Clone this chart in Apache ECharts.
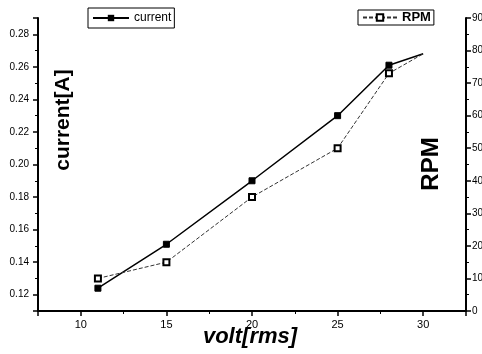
<!DOCTYPE html>
<html><head><meta charset="utf-8">
<script src="https://cdn.jsdelivr.net/npm/echarts@6/dist/echarts.min.js"></script>
<style>html,body{margin:0;padding:0;background:#fff}#c{width:482px;height:354px}</style>
</head><body><div id="c"></div>
<script>
const volts = [11, 15, 20, 25, 28, 30];
const currentA = [0.124, 0.151, 0.190, 0.230, 0.261, 0.268];
const rpm = [10, 15, 35, 50, 73, 79];
const nameCurrent = 'current';
const nameRpm = 'RPM';
const titleX = 'volt[rms]';
const titleLeft = 'current[A]';
const titleRight = 'RPM';

const FONT = '"Liberation Sans", Arial, sans-serif';
const last = volts.length - 1;
function pts(vals) {
  return volts.map((v, i) => i === last ? { value: [v, vals[i]], symbol: 'none' } : [v, vals[i]]);
}
const axisCommon = {
  axisLine: { show: true, onZero: false, lineStyle: { color: '#000', width: 2 } },
  axisTick: { show: true, inside: false, length: 5, lineStyle: { color: '#000', width: 1.5 } },
  minorTick: { show: true, splitNumber: 2, length: 3, lineStyle: { color: '#000', width: 1 } },
  splitLine: { show: false },
  minorSplitLine: { show: false },
  axisLabel: { color: '#000', fontSize: 10, fontFamily: FONT, showMinLabel: false, showMaxLabel: false }
};
const chart = echarts.init(document.getElementById('c'), null, { renderer: 'canvas' });
chart.setOption({
  animation: false,
  backgroundColor: '#fff',
  grid: { left: 38, right: 16, top: 18, bottom: 43, containLabel: false, outerBoundsMode: 'none' },
  legend: [
    {
      data: [nameCurrent], left: 88, top: 8, orient: 'horizontal',
      borderColor: '#000', borderWidth: 1, padding: [4, 3, 4, 4],
      itemWidth: 36, itemHeight: 8, itemGap: 4,
      textStyle: { color: '#000', fontSize: 12, fontFamily: FONT }
    },
    {
      data: [nameRpm], left: 358, top: 10, orient: 'horizontal',
      borderColor: '#000', borderWidth: 1, padding: [1, 3, 1, 4],
      itemWidth: 34, itemHeight: 8, itemGap: 4,
      textStyle: { color: '#000', fontSize: 13, fontWeight: 'bold', fontFamily: FONT }
    }
  ],
  xAxis: Object.assign({}, axisCommon, {
    type: 'value', min: 7.5, max: 32.5, splitNumber: 5,
    axisLabel: Object.assign({}, axisCommon.axisLabel, { margin: 8, fontSize: 11 })
  }),
  yAxis: [
    Object.assign({}, axisCommon, {
      type: 'value', min: 0.11, max: 0.29, splitNumber: 9, position: 'left',
      axisLabel: Object.assign({}, axisCommon.axisLabel, { margin: 9, formatter: v => v.toFixed(2) })
    }),
    Object.assign({}, axisCommon, {
      type: 'value', min: 0, max: 90, interval: 10, position: 'right',
      axisLabel: Object.assign({}, axisCommon.axisLabel, { margin: 6, showMinLabel: true, showMaxLabel: true })
    })
  ],
  series: [
    {
      name: nameCurrent, type: 'line', yAxisIndex: 0, data: pts(currentA),
      symbol: 'rect', symbolSize: 6,
      itemStyle: { color: '#000', borderColor: '#000' },
      lineStyle: { color: '#000', width: 1.5 }
    },
    {
      name: nameRpm, type: 'line', yAxisIndex: 1, data: pts(rpm),
      symbol: 'emptyRect', symbolSize: 6,
      itemStyle: { color: '#000', borderColor: '#000', borderWidth: 1 },
      lineStyle: { color: '#333', width: 1, type: [4, 2] }
    }
  ],
  graphic: [
    { type: 'text', x: 63, y: 120, rotation: Math.PI / 2,
      style: { text: titleLeft, fill: '#000', font: 'bold 21px ' + FONT, align: 'center', verticalAlign: 'middle' } },
    { type: 'text', x: 431, y: 164, rotation: Math.PI / 2,
      style: { text: titleRight, fill: '#000', font: 'bold 24px ' + FONT, align: 'center', verticalAlign: 'middle' } },
    { type: 'text', x: 250, y: 337,
      style: { text: titleX, fill: '#000', font: 'italic bold 22px ' + FONT, align: 'center', verticalAlign: 'middle' } }
  ]
});
</script></body></html>
